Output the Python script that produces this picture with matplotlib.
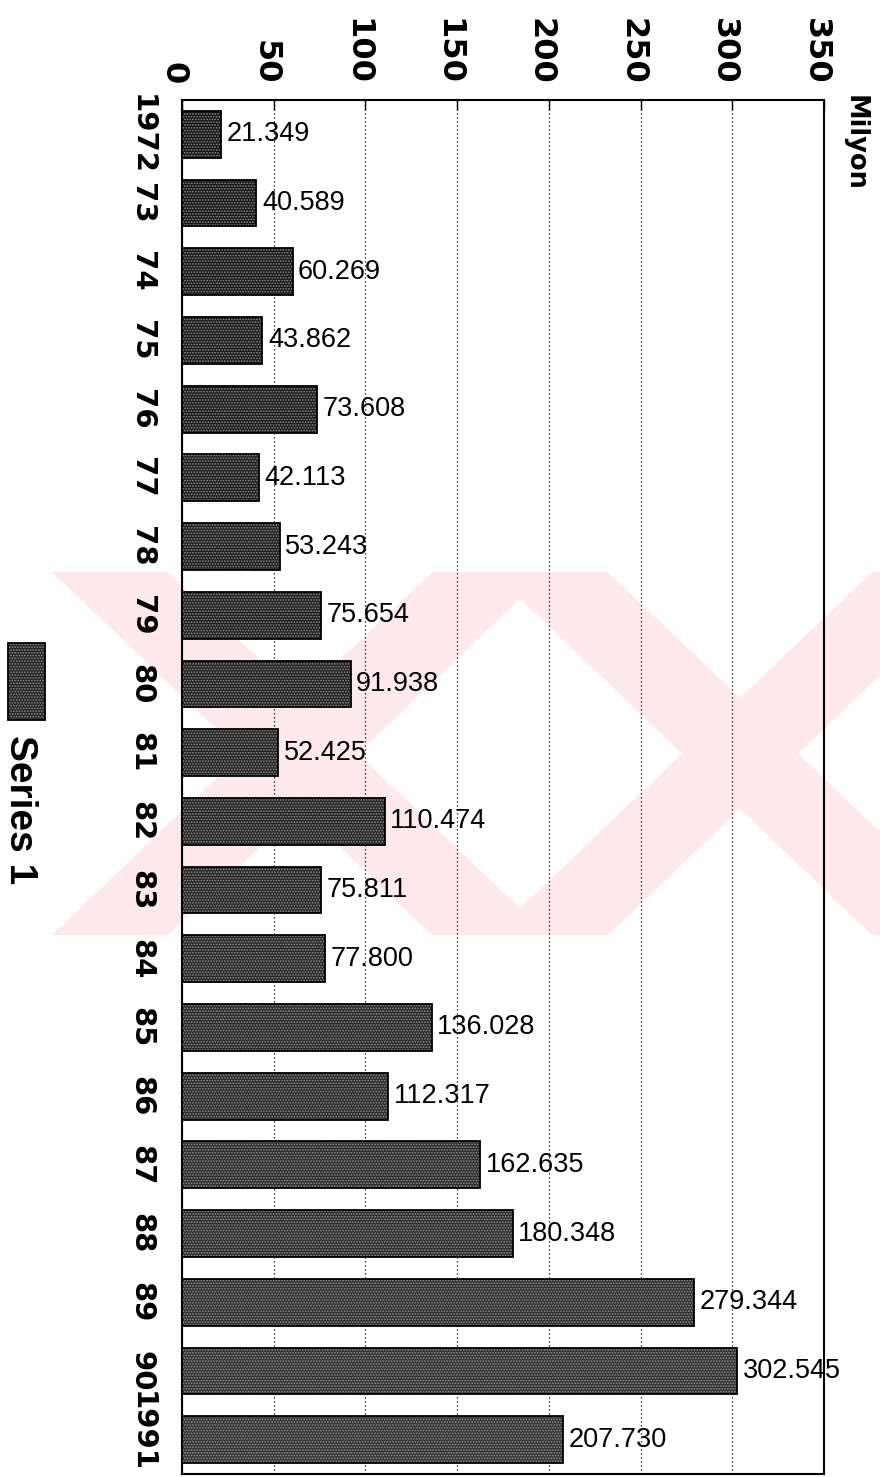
import matplotlib
matplotlib.use("Agg")
import matplotlib.pyplot as plt
from matplotlib.patches import Polygon, Rectangle
from matplotlib.transforms import ScaledTranslation

# Yearly values (Milyon)
year_labels = ["1972", "73", "74", "75", "76", "77", "78", "79", "80", "81",
               "82", "83", "84", "85", "86", "87", "88", "89", "90", "1991"]
values = [21.349, 40.589, 60.269, 43.862, 73.608, 42.113, 53.243, 75.654,
          91.938, 52.425, 110.474, 75.811, 77.800, 136.028, 112.317,
          162.635, 180.348, 279.344, 302.545, 207.730]
x_ticks = [0, 50, 100, 150, 200, 250, 300, 350]
series_name = "Series 1"
unit_label = "Milyon"

W, H = 880, 1477
fig = plt.figure(figsize=(W / 100, H / 100), dpi=100)
fig.patch.set_facecolor("white")


def fx(px):
    return px / W


def fy(py):
    return 1 - py / H


# faint background emblem made of crossing pink bands
pink = "#fde9ec"
y_top, y_bot = 572, 935
for cx in (300, 740):
    for sign in (-1, 1):
        x0 = cx - sign * 190
        x1 = cx + sign * 190
        hw = 58
        pts = [(fx(x0 - hw), fy(y_top)), (fx(x0 + hw), fy(y_top)),
               (fx(x1 + hw), fy(y_bot)), (fx(x1 - hw), fy(y_bot))]
        fig.add_artist(Polygon(pts, closed=True, facecolor=pink,
                               edgecolor="none", transform=fig.transFigure,
                               zorder=0, clip_on=False))

ax = fig.add_axes([fx(182), fy(1474), fx(824) - fx(182), (1474 - 100) / H])
ax.set_facecolor("none")
ax.set_zorder(1)

n = len(values)
pos = list(range(n))
shades = []
for i in range(n):
    t = i / (n - 1)
    g = int(0x14 + t * (0x34 - 0x14))
    shades.append("#%02x%02x%02x" % (g, g, g))

plt.rcParams["hatch.linewidth"] = 0.8
ax.barh(pos, values, height=0.68, color=shades, edgecolor="#909090",
        hatch="......", linewidth=0, zorder=3)
ax.barh(pos, values, height=0.68, fill=False, edgecolor="black",
        linewidth=1.3, zorder=4)

ax.set_xlim(0, 350)
ax.set_ylim(n - 0.5, -0.5)

ax.xaxis.tick_top()
ax.set_xticks(x_ticks)
ax.set_xticklabels([str(t) for t in x_ticks], rotation=-90,
                   fontsize=23, fontweight="bold", family="DejaVu Sans")
ax.tick_params(axis="x", direction="in", length=7, width=1, pad=11)
shift = ScaledTranslation(-9 / 100, 0, fig.dpi_scale_trans)
for lab in ax.get_xticklabels():
    lab.set_transform(lab.get_transform() + shift)

ax.set_yticks(pos)
ax.set_yticklabels(year_labels, rotation=-90, va="center", ha="right",
                   fontsize=21, fontweight="bold", family="DejaVu Sans")
ax.tick_params(axis="y", length=0, pad=19)
# keep the last four-digit year inside the figure
last = ax.get_yticklabels()[-1]
last.set_transform(last.get_transform()
                   + ScaledTranslation(0, 8 / 100, fig.dpi_scale_trans))

ax.grid(axis="x", linestyle=(0, (1, 2.2)), color="black", linewidth=0.9,
        zorder=1)
ax.set_axisbelow(True)
for sp in ax.spines.values():
    sp.set_linewidth(1.5)
    sp.set_color("black")

for i, v in enumerate(values):
    ax.annotate(f"{v:.3f}", xy=(v, i), xytext=(4, 0),
                textcoords="offset points", va="center", ha="left",
                fontsize=19.5, family="Liberation Sans", zorder=5)

# rotated legend swatch and label
fig.add_artist(Rectangle((fx(8), fy(720)), fx(45) - fx(8), (720 - 643) / H,
                         facecolor=shades[n // 2], edgecolor="#909090",
                         hatch="......", linewidth=0,
                         transform=fig.transFigure, zorder=2))
fig.add_artist(Rectangle((fx(8), fy(720)), fx(45) - fx(8), (720 - 643) / H,
                         fill=False, edgecolor="black", linewidth=1.3,
                         transform=fig.transFigure, zorder=3))
fig.text(fx(20), fy(735), series_name, rotation=-90, ha="center", va="top",
         fontsize=28, fontweight="bold", family="Liberation Sans")

fig.text(fx(855), fy(95), unit_label, rotation=-90, ha="center", va="top",
         fontsize=18.5, fontweight="bold", family="DejaVu Sans")

fig.savefig("out.png", dpi=100, facecolor="white")
